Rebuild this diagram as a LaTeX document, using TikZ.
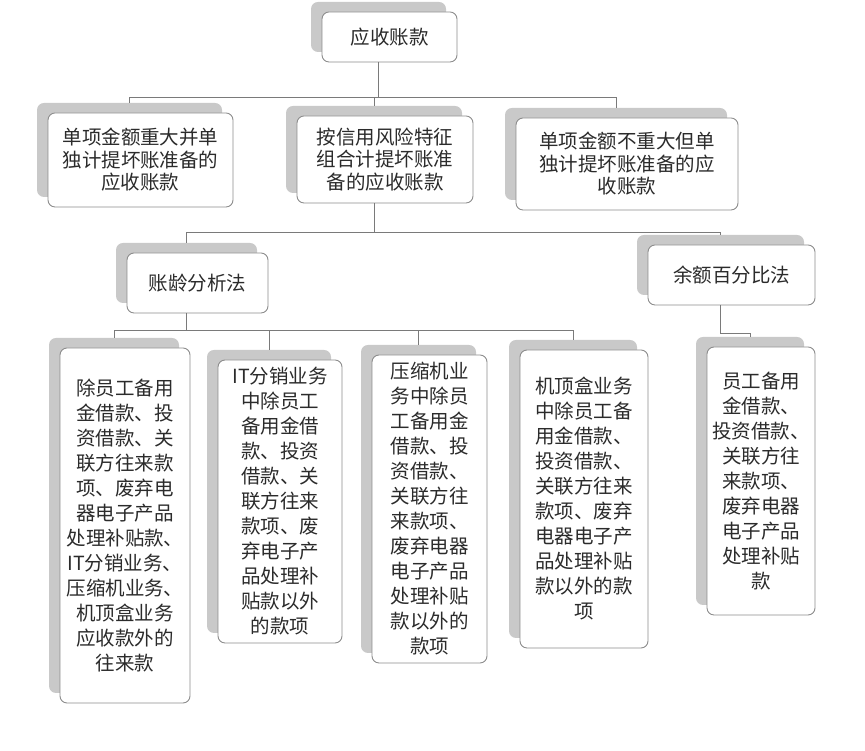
\documentclass[tikz,border=0pt]{standalone}
\usepackage{fontspec}
\newfontfamily\cjk{Noto Sans CJK SC}
\usetikzlibrary{shadows}
\definecolor{boxline}{HTML}{8C8C8C}
\definecolor{boxshade}{HTML}{C9C9C9}
\definecolor{wiregray}{HTML}{7A7A7A}
\definecolor{ink}{HTML}{2B2B2B}
\begin{document}
\begin{tikzpicture}[x=1pt,y=1pt,
    box/.style={draw=boxline,line width=0.9pt,fill=white,rounded corners=7pt,
      align=center,inner sep=0pt,text=ink,
      font=\cjk\fontsize{19.5}{25}\selectfont,
      drop shadow={shadow xshift=-11pt,shadow yshift=10pt,fill=boxshade,opacity=1}},
    head/.style={box,font=\cjk\fontsize{19.5}{22.5}\selectfont},
    wire/.style={draw=wiregray,line width=1pt}]
      \useasboundingbox (0,0) rectangle (865,751);
      \draw
        (389.5,714) node[head,minimum width=135pt,minimum height=50pt] (root) {应收账款}
        (140.5,591) node[head,minimum width=185pt,minimum height=94pt] (l1a) {单项金额重大并单\\独计提坏账准备的\\应收账款}
        (385,591.5) node[head,minimum width=176pt,minimum height=87pt] (l1b) {按信用风险特征\\组合计提坏账准\\备的应收账款}
        (627,587) node[head,minimum width=222pt,minimum height=92pt] (l1c) {单项金额不重大但单\\独计提坏账准备的应\\收账款}
        (197.5,468) node[head,minimum width=141pt,minimum height=60pt] (l2a) {账龄分析法}
        (731.5,476) node[head,minimum width=167pt,minimum height=60pt] (l2b) {余额百分比法}
        (125,225.5) node[box,minimum width=130pt,minimum height=355pt] (l3a) {除员工备用\\金借款、投\\资借款、关\\联方往来款\\项、废弃电\\器电子产品\\处理补贴款、\\IT分销业务、\\压缩机业务、\\机顶盒业务\\应收款外的\\往来款}
        (280,249.5) node[box,minimum width=124pt,minimum height=283pt] (l3b) {IT分销业务\\中除员工\\备用金借\\款、投资\\借款、关\\联方往来\\款项、废\\弃电子产\\品处理补\\贴款以外\\的款项}
        (429.5,242) node[box,minimum width=115pt,minimum height=308pt] (l3c) {压缩机业\\务中除员\\工备用金\\借款、投\\资借款、\\关联方往\\来款项、\\废弃电器\\电子产品\\处理补贴\\款以外的\\款项}
        (584,252) node[box,minimum width=128pt,minimum height=298pt] (l3d) {机顶盒业务\\中除员工备\\用金借款、\\投资借款、\\关联方往来\\款项、废弃\\电器电子产\\品处理补贴\\款以外的款\\项}
        (761,270) node[box,minimum width=108pt,minimum height=268pt] (l3e) {员工备用\\金借款、\\投资借款、\\关联方往\\来款项、\\废弃电器\\电子产品\\处理补贴\\款};
      \begin{scope}[wire]
        \draw ([xshift=-11pt]root.south) -- ++(0,-35) -| ([shift={(-11pt,10pt)}]l1a.north);
        \draw ([xshift=-11pt]root.south) -- ++(0,-35) -| ([shift={(-11pt,10pt)}]l1b.north);
        \draw ([xshift=-11pt]root.south) -- ++(0,-35) -| ([shift={(-11pt,10pt)}]l1c.north);
        \draw ([xshift=-11pt]l1b.south) -- ++(0,-29) -| ([shift={(-11pt,10pt)}]l2a.north);
        \draw ([xshift=-11pt]l1b.south) -- ++(0,-29) -| ([shift={(-11pt,10pt)}]l2b.north);
        \draw ([xshift=-11pt]l2a.south) -- ++(0,-17) -| ([shift={(-11pt,10pt)}]l3a.north);
        \draw ([xshift=-11pt]l2a.south) -- ++(0,-17) -| ([shift={(-11pt,10pt)}]l3b.north);
        \draw ([xshift=-11pt]l2a.south) -- ++(0,-17) -| ([shift={(-11pt,10pt)}]l3c.north);
        \draw ([xshift=-11pt]l2a.south) -- ++(0,-17) -| ([shift={(-11pt,10pt)}]l3d.north);
        \draw ([xshift=-11pt]l2b.south) -- ++(0,-28) -| ([shift={(-11pt,10pt)}]l3e.north);
      \end{scope}
    \end{tikzpicture}
\end{document}
